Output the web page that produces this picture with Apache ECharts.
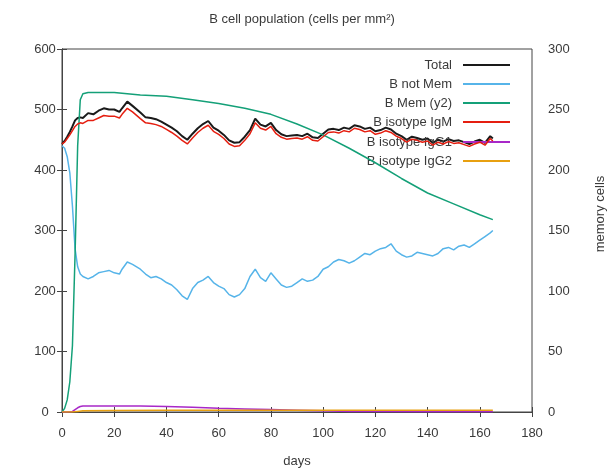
<!DOCTYPE html>
<html>
<head>
<meta charset="utf-8">
<script src="https://cdn.jsdelivr.net/npm/echarts@6/dist/echarts.min.js"></script>
<style>html,body{margin:0;padding:0;background:#fff}#c{width:612px;height:473px}</style>
</head>
<body>
<div id="c"></div>
<script>
// ---- data ----
const xTicks = [0,20,40,60,80,100,120,140,160,180];
const yTicks = [0,100,200,300,400,500,600];
const y2Ticks = [0,50,100,150,200,250,300];

const days = [0,1,2,3,4,5,6,7,8,10,
  12,14,16,18,20,22,23,25,27,30,
  32,34,36,38,40,42,44,46,48,50,
  52,54,56,58,60,62,64,66,68,70,
  72,74,76,78,80,82,84,86,88,90,
  92,94,96,98,100,102,104,106,108,110,
  112,114,116,118,120,122,124,126,128,130,
  132,134,136,138,140,142,144,146,148,150,
  152,154,156,158,160,162,164,165];

const total = [443,448,455,463,472,482,486,487,486,494,
  492,498,502,500,500,496,502,513,506,495,
  487,486,484,480,475,470,464,456,450,460,
  469,476,481,470,465,458,449,445,446,455,
  466,485,475,472,478,466,459,456,457,458,
  456,460,454,453,460,467,468,466,470,468,
  474,472,468,470,464,466,470,467,460,456,
  450,455,453,450,452,445,450,447,451,448,
  449,446,443,447,450,445,456,452];

const igm = [443,446,452,458,465,472,476,478,477,482,
  482,486,490,489,489,486,492,502,496,485,
  478,477,475,472,467,462,456,449,443,453,
  462,469,474,464,459,452,443,439,440,449,
  460,478,469,466,472,460,454,451,452,453,
  451,455,449,448,455,462,463,461,465,463,
  469,467,463,465,459,461,465,462,456,452,
  446,451,449,446,448,441,446,443,447,444,
  445,442,439,443,446,441,452,448];

const notMem = [440,436,422,395,340,270,240,228,224,220,
  224,230,232,234,230,228,236,248,244,236,
  228,222,224,220,214,210,202,192,186,204,
  214,218,224,214,208,204,194,190,194,204,
  224,236,222,216,230,220,210,206,208,214,
  220,216,218,224,236,240,248,252,250,246,
  250,256,262,260,266,270,272,278,266,260,
  256,258,264,262,260,258,262,270,272,268,
  274,276,272,278,284,290,296,300];

const memDays = [0,1,2,3,4,5,6,7,8,10,15,20,25,30,40,50,60,70,80,90,100,110,120,130,140,150,160,165];
const mem = [0,3,10,25,55,130,220,258,263,264,264,264,263,262,261,258,255,251,246,238,229,218,206,193,181,172,163,159];

const igg1Days = [0,2,4,5,6,7,8,10,20,30,40,50,60,70,80,90,100,110,120,140,165];
const igg1 = [0,0,1,4,7,9,10,10,10,10,9,8,6,5,4,3,2,1,1,0.5,0.5];

const igg2Days = [0,4,6,8,20,40,60,80,100,120,140,165];
const igg2 = [0,0,1,2,2.5,3,3,3,3,3,3,3];

const seriesNames = ['Total','B not Mem','B Mem (y2)','B isotype IgM','B isotype IgG1','B isotype IgG2'];

// ---- build ----
const zip = (xs, ys) => xs.map((x, i) => [x, ys[i]]);
const colors = ['#1a1a1a','#56b4e9','#14a078','#e51e10','#a828c8','#e8a010'];
const widths = [2,1.5,1.5,1.5,1.5,1.5];
const dataSets = [zip(days,total), zip(days,notMem), zip(memDays,mem), zip(days,igm), zip(igg1Days,igg1), zip(igg2Days,igg2)];
const yIdx = [0,0,1,0,0,0];
const FONT = 'Liberation Sans';
const TXT = '#3a3a3a';
const legendTops = [58,77,96,115,135,154];

const chart = echarts.init(document.getElementById('c'), null, {renderer:'canvas'});
chart.setOption({
  animation: false,
  backgroundColor: '#fff',
  title: {
    text: 'B cell population (cells per mm\u00B2)',
    left: 297, top: 8, textAlign: 'center',
    textStyle: {fontFamily: FONT, fontSize: 13, fontWeight: 'normal', color: TXT}
  },
  grid: {left: 62, right: 80, top: 49, bottom: 59, show: true, borderColor: '#444', borderWidth: 1},
  legend: seriesNames.map((n, i) => ({
    data: [n], right: 102, top: legendTops[i], align: 'right', orient: 'vertical',
    icon: 'rect', itemWidth: 47, itemHeight: 2, selectedMode: false, padding: 0,
    textStyle: {fontFamily: FONT, fontSize: 13, color: TXT, lineHeight: 14, padding: [0,6,0,0]}
  })),
  xAxis: [{
    type: 'value', min: xTicks[0], max: xTicks[xTicks.length-1], interval: xTicks[1]-xTicks[0],
    name: 'days', nameLocation: 'middle', nameGap: 43,
    nameTextStyle: {fontFamily: FONT, fontSize: 13, color: TXT},
    axisLine: {show: true, lineStyle: {color: '#444', width: 1}},
    axisTick: {show: true, inside: true, length: 5, lineStyle: {color: '#444'}},
    axisLabel: {fontFamily: FONT, fontSize: 13, color: TXT, margin: 15},
    splitLine: {show: false}
  }, {
    type: 'value', position: 'top', min: xTicks[0], max: xTicks[xTicks.length-1], interval: xTicks[1]-xTicks[0],
    axisLine: {show: false},
    axisTick: {show: true, inside: true, length: 5, lineStyle: {color: '#444'}},
    axisLabel: {show: false}, splitLine: {show: false}
  }],
  yAxis: [{
    type: 'value', min: yTicks[0], max: yTicks[yTicks.length-1], interval: yTicks[1]-yTicks[0],
    axisLine: {show: true, lineStyle: {color: '#444', width: 1}},
    axisTick: {show: true, inside: true, length: 5, lineStyle: {color: '#444'}},
    axisLabel: {fontFamily: FONT, fontSize: 13, color: TXT, margin: 17, align: 'center'},
    splitLine: {show: false}
  }, {
    type: 'value', position: 'right', min: y2Ticks[0], max: y2Ticks[y2Ticks.length-1], interval: y2Ticks[1]-y2Ticks[0],
    axisLine: {show: true, lineStyle: {color: '#444', width: 1}},
    axisTick: {show: true, inside: true, length: 5, lineStyle: {color: '#444'}},
    axisLabel: {fontFamily: FONT, fontSize: 13, color: TXT, margin: 16},
    splitLine: {show: false}
  }],
  graphic: [{
    type: 'text', x: 600, y: 214, rotation: Math.PI/2,
    style: {text: 'memory cells', fontFamily: FONT, fontSize: 13, fill: TXT, align: 'center', verticalAlign: 'middle'}
  }],
  series: seriesNames.map((n, i) => ({
    name: n, type: 'line', yAxisIndex: yIdx[i], data: dataSets[i],
    showSymbol: false, symbol: 'none', smooth: false,
    lineStyle: {color: colors[i], width: widths[i]},
    itemStyle: {color: colors[i]},
    z: 2 + i
  }))
});
</script>
</body>
</html>
